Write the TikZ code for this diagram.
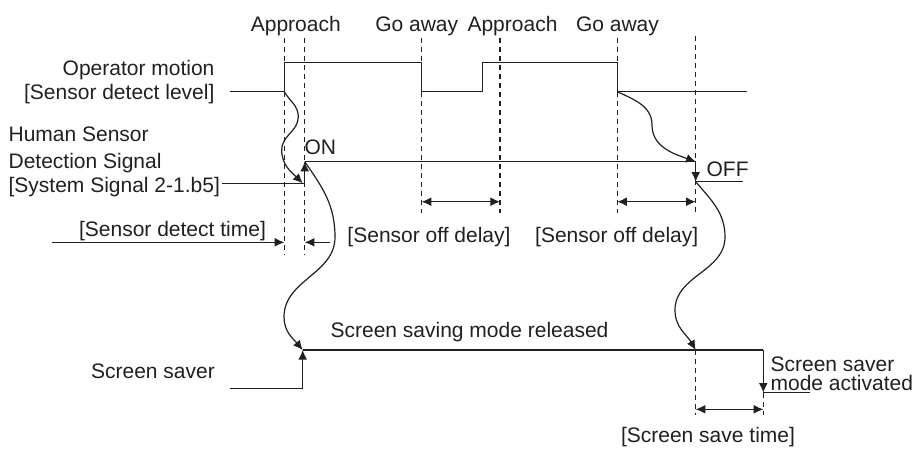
\documentclass[tikz,border=0pt]{standalone}
\usepackage{fontspec}
\setmainfont{Liberation Sans}
\usetikzlibrary{arrows.meta}
\definecolor{ink}{HTML}{231F20}

\begin{document}
\begin{tikzpicture}[x=0.5pt,y=-0.5pt,line width=0.6pt,draw=ink,text=ink,font=\fontsize{10.5}{12}\selectfont]
    \tikzset{lbl/.style = {inner sep=0pt}}
    \tikzset{guide/.style = {dash pattern=on 2.5pt off 2pt}}
    \tikzset{edge/.style = {-{Latex[length=4.8pt,width=4.4pt]}}}
    \tikzset{span/.style = {{Latex[length=4.8pt,width=4.4pt]}-{Latex[length=4.8pt,width=4.4pt]}}}
    \useasboundingbox (0,0) rectangle (916,451);

    \node[lbl, anchor=base] (ap1) at (295.8,31.7) {Approach};
    \node[lbl, anchor=base] (go1) at (416.7,31.7) {Go away};
    \node[lbl, anchor=base] (ap2) at (512.5,31.7) {Approach};
    \node[lbl, anchor=base] (go2) at (617.5,31.7) {Go away};

    \node[lbl, anchor=base east] (opr) at (215,75) {Operator motion};
    \node[lbl, anchor=base east] (lvl) at (215,99) {[Sensor detect level]};
    \node[lbl, anchor=base west] (hum) at (8,141.7) {Human Sensor};
    \node[lbl, anchor=base west] (det) at (8,168.3) {Detection Signal};
    \node[lbl, anchor=base west] (sys) at (8,192.7) {[System Signal 2-1.b5]};
    \node[lbl, anchor=base west] (on) at (304,154) {ON};
    \node[lbl, anchor=base west] (off) at (706,176.7) {OFF};
    \node[lbl, anchor=base] (dtime) at (172.5,236) {[Sensor detect time]};
    \node[lbl, anchor=base] (delay1) at (429,242.3) {[Sensor off delay]};
    \node[lbl, anchor=base] (delay2) at (616.7,242.3) {[Sensor off delay]};
    \node[lbl, anchor=base west] (rel) at (330,337.7) {Screen saving mode released};
    \node[lbl, anchor=base] (saver) at (153,378.3) {Screen saver};
    \node[lbl, anchor=base west] (act1) at (770,371) {Screen saver};
    \node[lbl, anchor=base west] (act2) at (770,390) {mode activated};
    \node[lbl, anchor=base] (stime) at (708,442) {[Screen save time]};

    \coordinate (m0) at (230,91.7);
    \coordinate (m1) at (284.3,91.7);
    \coordinate (m2) at (284.3,62.3);
    \coordinate (m3) at (421.7,62.3);
    \coordinate (m4) at (421.7,91.7);
    \coordinate (m5) at (482.7,91.7);
    \coordinate (m6) at (482.7,62.3);
    \coordinate (m7) at (617.3,62.3);
    \coordinate (m8) at (617.3,91.7);
    \coordinate (m9) at (746.7,91.7);
    \draw (m0) -- (m1) -- (m2) -- (m3) -- (m4) -- (m5) -- (m6) -- (m7) -- (m8) -- (m9);

    \coordinate (s0) at (221.7,183.3);
    \coordinate (s1) at (304.7,183.3);
    \coordinate (s2) at (304.7,161.7);
    \coordinate (s3) at (695.7,161.7);
    \coordinate (s4) at (695.7,181.7);
    \coordinate (s5) at (742.7,181.7);
    \draw (s0) -- (s1);
    \draw[edge] (s1) -- (s2);
    \draw (s2) -- (s3);
    \draw[edge] (s3) -- (s4);
    \draw (s4) -- (s5);

    \coordinate (v0) at (230,388.3);
    \coordinate (v1) at (302.7,388.3);
    \coordinate (v2) at (302.7,350);
    \coordinate (v3) at (695.7,350);
    \coordinate (v4) at (763.3,350);
    \coordinate (v5) at (763.3,392.7);
    \coordinate (v6) at (810,392.7);
    \draw (v0) -- (v1);
    \draw[edge] (v1) -- (v2);
    \draw (v2) -- (v4);
    \draw[edge] (v4) -- (v5);
    \draw (v5) -- (v6);

    \draw[guide] (284.3,38) -- (284.3,255);
    \draw[guide] (304.7,38) -- (304.7,255);
    \draw[guide] (421.7,38) -- (421.7,213);
    \draw[guide] (500,38) -- (500,213);
    \draw[guide] (617.3,38) -- (617.3,213);
    \draw[guide] (695.7,36) -- (695.7,213);
    \draw[guide] (695.7,350) -- (695.7,415);
    \draw[guide] (763.3,393) -- (763.3,415);

    \coordinate (d0) at (51.7,242.3);
    \coordinate (d1) at (284.3,242.3);
    \coordinate (d2) at (304.7,242.3);
    \coordinate (d3) at (330,242.3);
    \draw[edge] (d0) -- (d1);
    \draw[edge] (d3) -- (d2);
    \coordinate (o1) at (421.7,201.7);
    \coordinate (o2) at (500,201.7);
    \coordinate (o3) at (617.3,201.7);
    \coordinate (o4) at (695.7,201.7);
    \draw[span] (o1) -- (o2);
    \draw[span] (o3) -- (o4);
    \coordinate (w1) at (695.7,409.3);
    \coordinate (w2) at (763.3,409.3);
    \draw[span] (w1) -- (w2);

    \draw[edge] (m1) to[out=-60,in=90] (298.3,116.7) to[out=-90,in=90] (281.7,150) to[out=-90,in=135] (302.7,183.3);
    \draw[edge] (s2) to[out=-55,in=90] (335,237) to[out=-90,in=90] (284,317) to[out=-90,in=130] (v2);
    \draw[edge] (m8) to[out=-25,in=90] (652,125) to[out=-90,in=160] (s3);
    \draw[edge] (s4) to[out=-50,in=90] (725,237) to[out=-90,in=90] (675,310) to[out=-90,in=120] (v3);
\end{tikzpicture}
\end{document}
